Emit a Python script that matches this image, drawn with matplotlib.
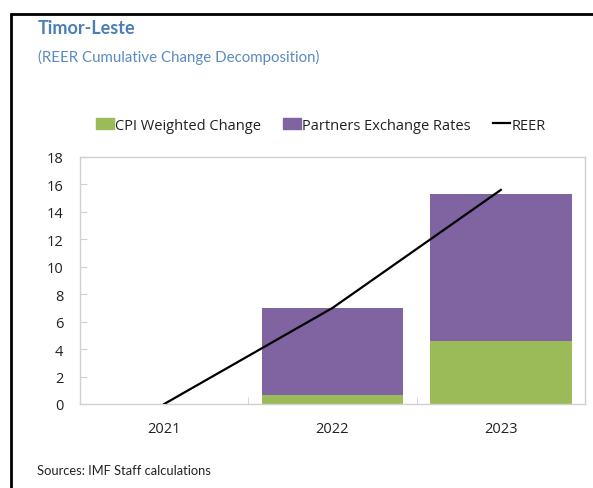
import matplotlib.pyplot as plt
from matplotlib.patches import Rectangle, Patch
from matplotlib.lines import Line2D

years = ['2021', '2022', '2023']
cpi_change = [0.0, 0.66, 4.57]
partners_fx = [0.0, 6.31, 10.73]
reer = [0.0, 7.0, 15.6]

green = '#9bbb59'
purple = '#8064a2'
title_blue = '#4a7fb5'
grid_gray = '#d0d0d0'

plt.rcParams['font.family'] = ['Open Sans', 'DejaVu Sans']

fig = plt.figure(figsize=(5.93, 4.89), dpi=100)

# black frame around the panel (runs off right and bottom edges)
fig.patches.append(Rectangle((10.5 / 593, -0.1), 1.2, 1 - 15 / 489 + 0.1,
                             transform=fig.transFigure, fill=False,
                             edgecolor='black', lw=2))

ax = fig.add_axes([80 / 593, 1 - 405 / 489, 505 / 593, 247 / 489])

x = range(len(years))
ax.bar(x, cpi_change, width=0.84, color=green, zorder=2)
ax.bar(x, partners_fx, width=0.84, bottom=cpi_change, color=purple, zorder=2)
ax.plot(x, reer, color='black', lw=1.6, zorder=3)

ax.set_xlim(-0.5, 2.5)
ax.set_ylim(0, 18)
ax.set_yticks(range(0, 19, 2))
ax.set_xticks(x)
ax.set_xticklabels(years)
ax.set_xticks([0.5, 1.5], minor=True)

for s in ax.spines.values():
    s.set_color(grid_gray)
    s.set_linewidth(1)
ax.tick_params(axis='y', direction='in', length=5, color=grid_gray,
               labelsize=10.5, pad=12, labelcolor='#222222')
ax.tick_params(axis='x', which='major', length=0, labelsize=10.5, pad=12,
               labelcolor='#222222')
ax.tick_params(axis='x', which='minor', direction='in', length=5, color=grid_gray)

fig.text(38 / 593, 1 - 29 / 489, 'Timor-Leste', color=title_blue,
         fontsize=13, fontweight='bold', va='center', family=['Lato', 'DejaVu Sans'])
fig.text(38 / 593, 1 - 57 / 489, '(REER Cumulative Change Decomposition)',
         color='#5b8bc0', fontsize=10.8, va='center', family=['Lato', 'DejaVu Sans'])
fig.text(37 / 593, 1 - 471 / 489, 'Sources: IMF Staff calculations',
         color='#222222', fontsize=9.3, va='center', family=['Lato', 'DejaVu Sans'])

handles = [Patch(color=green), Patch(color=purple), Line2D([0], [0], color='black', lw=1.6)]
labels = ['CPI Weighted Change', 'Partners Exchange Rates', 'REER']
fig.legend(handles, labels, loc='center', bbox_to_anchor=(321 / 593, 1 - 126 / 489),
           ncol=3, frameon=False, fontsize=10.5, handlelength=1.2, handleheight=0.7,
           handletextpad=0.1, columnspacing=1.5, labelcolor='#222222')

fig.savefig('out.png', dpi=100)
